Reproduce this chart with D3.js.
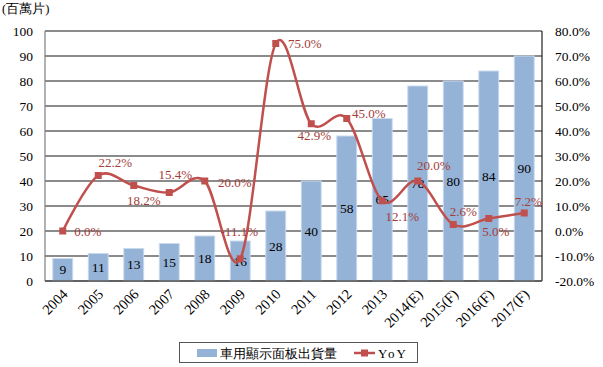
<!DOCTYPE html>
<html><head><meta charset="utf-8">
<script src="https://cdn.jsdelivr.net/npm/d3@7"></script>
<style>body{margin:0;background:#fff}svg text{font-family:"Liberation Serif","Times New Roman",serif}</style>
</head><body><svg id="c" width="603" height="367"></svg>
<script>
const categories = ["2004","2005","2006","2007","2008","2009","2010","2011","2012","2013","2014(E)","2015(F)","2016(F)","2017(F)"];
const shipments = [9,11,13,15,18,16,28,40,58,65,78,80,84,90];
const yoy = [0.0,22.2,18.2,15.4,20.0,-11.1,75.0,42.9,45.0,12.1,20.0,2.6,5.0,7.2];
const leftTicks = [0,10,20,30,40,50,60,70,80,90,100];
const rightTicks = [-20,-10,0,10,20,30,40,50,60,70,80];
const yoyLabelOffsets = [[25,0],[17,-13.5],[10,15],[6,-18.5],[30,1],[-1,-27],[29,0],[3,12],[22,-5],[20,16],[16,-16],[10,-13],[7,13],[4,-12]];
const seriesNames = ["車用顯示面板出貨量","YoY"];

const svg = d3.select("#c");
const L=45,R=542,T=31,B=281;
const x = d3.scaleBand().domain(categories).range([L,R]).paddingInner(0.44).paddingOuter(0.22);
const y = d3.scaleLinear().domain([0,100]).range([B,T]);
const y2 = d3.scaleLinear().domain([-20,80]).range([B,T]);
const red="#C0504D", labRed="#A23D3A";

// gridlines
svg.append("g").selectAll("line").data(leftTicks).join("line")
  .attr("x1",L).attr("x2",R).attr("y1",d=>y(d)).attr("y2",d=>y(d))
  .attr("stroke","#646464").attr("stroke-width",1.5);

// bars
svg.append("g").selectAll("rect").data(shipments).join("rect")
  .attr("x",(d,i)=>x(categories[i])).attr("width",x.bandwidth())
  .attr("y",d=>y(d)).attr("height",d=>B-y(d))
  .attr("fill","#95B3D7").attr("stroke","#C9D9EE").attr("stroke-width",1);

// axes lines
svg.append("line").attr("x1",L).attr("x2",L).attr("y1",T).attr("y2",B).attr("stroke","#7f7f7f").attr("stroke-width",1.2);
svg.append("line").attr("x1",R).attr("x2",R).attr("y1",T).attr("y2",B).attr("stroke","#222").attr("stroke-width",1.2);
svg.append("line").attr("x1",L).attr("x2",R).attr("y1",B).attr("y2",B).attr("stroke","#555").attr("stroke-width",1.5);

// left axis
const la = svg.append("g").attr("transform",`translate(${L},0)`).call(d3.axisLeft(y).tickValues(leftTicks).tickSize(0).tickPadding(12).tickFormat(d3.format("d")));
la.select(".domain").remove();
la.selectAll("text").attr("font-size",13.5).attr("fill","#000").attr("font-family","Liberation Serif, serif");
// right axis
const ra = svg.append("g").attr("transform",`translate(${R},0)`).call(d3.axisRight(y2).tickValues(rightTicks).tickSize(0).tickPadding(13).tickFormat(d=>d.toFixed(1)+"%"));
ra.select(".domain").remove();
ra.selectAll("text").attr("font-size",13.5).attr("fill","#000").attr("font-family","Liberation Serif, serif");
// bottom axis
const ba = svg.append("g").attr("transform",`translate(0,${B})`).call(d3.axisBottom(x).tickSize(0).tickPadding(0));
ba.select(".domain").remove();
ba.selectAll("text").attr("font-size",14.5).attr("fill","#000").attr("font-family","Liberation Serif, serif")
  .attr("text-anchor","end").attr("dy",0).attr("transform","translate(6,14) rotate(-45)");

// bar labels
svg.append("g").selectAll("text").data(shipments).join("text")
  .attr("x",(d,i)=>x(categories[i])+x.bandwidth()/2).attr("y",d=>(y(d)+B)/2)
  .attr("text-anchor","middle").attr("dominant-baseline","central")
  .attr("font-size",13.5).attr("fill","#000").text(d=>d);

// line
const cx = i=>x(categories[i])+x.bandwidth()/2;
const line = d3.line().x((d,i)=>cx(i)).y(d=>y2(d)).curve(d3.curveCatmullRom.alpha(0));
svg.append("path").datum(yoy).attr("d",line).attr("fill","none").attr("stroke",red).attr("stroke-width",2.5);
svg.append("g").selectAll("rect").data(yoy).join("rect")
  .attr("x",(d,i)=>cx(i)-3.5).attr("y",d=>y2(d)-3.5).attr("width",7).attr("height",7).attr("fill",red);
svg.append("g").selectAll("text").data(yoy).join("text")
  .attr("x",(d,i)=>cx(i)+yoyLabelOffsets[i][0]).attr("y",(d,i)=>y2(d)+yoyLabelOffsets[i][1])
  .attr("text-anchor","middle").attr("dominant-baseline","central")
  .attr("font-size",13).attr("fill",labRed).text(d=>d.toFixed(1)+"%");

// y title
svg.append("text").attr("x",2).attr("y",13).attr("font-size",12.5)
  .attr("font-family","Noto Sans CJK TC, sans-serif").text("(百萬片)");

// legend
const lg = svg.append("g");
lg.append("rect").attr("x",179.5).attr("y",342.5).attr("width",238).attr("height",20).attr("fill","#fff").attr("stroke","#555").attr("stroke-width",1);
lg.append("rect").attr("x",197).attr("y",349).attr("width",20).attr("height",8).attr("fill","#95B3D7");
lg.append("text").attr("x",220).attr("y",353).attr("dominant-baseline","central").attr("font-size",13)
  .attr("font-family","Noto Sans CJK TC, sans-serif").text(seriesNames[0]);
lg.append("line").attr("x1",354).attr("x2",375).attr("y1",353).attr("y2",353).attr("stroke",red).attr("stroke-width",2.5);
lg.append("rect").attr("x",361).attr("y",349.5).attr("width",7).attr("height",7).attr("fill",red);
lg.append("text").attr("x",378).attr("y",353).attr("dominant-baseline","central").attr("font-size",13)
  .attr("letter-spacing",2).text(seriesNames[1]);
</script></body></html>
